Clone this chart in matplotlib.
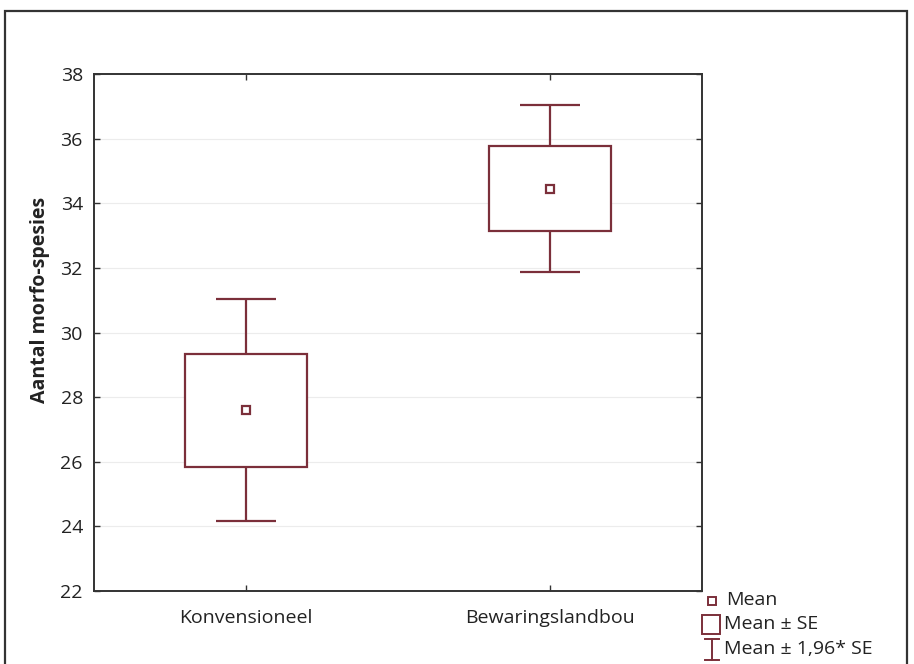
import matplotlib
matplotlib.use("Agg")
import matplotlib.pyplot as plt
from matplotlib.patches import Rectangle
from matplotlib.lines import Line2D

plt.rcParams['font.family'] = ['Open Sans', 'DejaVu Sans']

categories = ["Konvensioneel", "Bewaringslandbou"]
means = [27.6, 34.45]
se = [1.75, 1.32]
ci_factor = 1.96
y_ticks = [22, 24, 26, 28, 30, 32, 34, 36, 38]

W, H = 914, 664
fig = plt.figure(figsize=(W / 100, H / 100), dpi=100)
ax = fig.add_axes([94 / W, 1 - 591 / H, (702 - 94) / W, (591 - 74) / H])

box_col = "#7b2f3a"
box_half = 0.2
cap_half = 0.1

xs = list(range(1, len(categories) + 1))
for x, m, s in zip(xs, means, se):
    lo, hi = m - s, m + s
    wlo, whi = m - ci_factor * s, m + ci_factor * s
    ax.vlines(x, hi, whi, color=box_col, lw=1.6, zorder=3)
    ax.vlines(x, wlo, lo, color=box_col, lw=1.6, zorder=3)
    ax.hlines([wlo, whi], x - cap_half, x + cap_half, color=box_col, lw=1.6, zorder=3)
    ax.add_patch(Rectangle((x - box_half, lo), 2 * box_half, 2 * s,
                           facecolor="white", edgecolor=box_col, lw=1.6, zorder=3))
    ax.plot([x], [m], marker="s", ms=6, mfc="white", mec=box_col, mew=1.6, zorder=4)

ax.set_xlim(0.5, 2.5)
ax.set_ylim(22, 38)
ax.set_xticks(xs)
ax.set_xticklabels(categories)
ax.set_yticks(y_ticks)
ax.tick_params(direction="in", length=4, width=1, labelsize=14, top=True, right=True,
               color="#333333", labelcolor="#222222", pad=8)
ax.tick_params(axis="x", pad=13)
ax.yaxis.grid(True, color="#ececec", lw=0.8)
ax.set_axisbelow(True)
for sp in ax.spines.values():
    sp.set_color("#333333")
    sp.set_linewidth(1.4)
ax.set_ylabel("Aantal morfo-spesies", fontsize=14, fontweight="bold", color="#222222")
ax.yaxis.set_label_coords(-44 / 608, (591 - 300) / 517)

# outer frame
fig.add_artist(Rectangle((5 / W, -0.02), (907 - 5) / W, 1 - 11 / H + 0.02,
                         transform=fig.transFigure, fill=False, edgecolor="#333333", lw=1.6))

# legend
def px(x, y):
    return x / W, 1 - y / H

fig.add_artist(Line2D(*zip(px(712, 601)), marker="s", ms=6, mfc="white", mec=box_col,
                      mew=1.4, transform=fig.transFigure))
fig.text(*px(726, 600), "Mean", fontsize=14, va="center", ha="left", color="#222222")
x0, y0 = px(702, 634)
fig.add_artist(Rectangle((x0, y0), 18 / W, 19 / H, transform=fig.transFigure,
                         fill=False, edgecolor=box_col, lw=1.4))
fig.text(*px(724, 624), "Mean ± SE", fontsize=14, va="center", ha="left", color="#222222")
fig.add_artist(Line2D([px(712, 639)[0]] * 2, [px(712, 639)[1], px(712, 660)[1]],
                      color=box_col, lw=1.4, transform=fig.transFigure))
for yy in (639, 660):
    a, b = px(705, yy), px(719, yy)
    fig.add_artist(Line2D([a[0], b[0]], [a[1], b[1]], color=box_col, lw=1.4,
                          transform=fig.transFigure))
fig.text(*px(724, 649), "Mean ± 1,96* SE", fontsize=14, va="center", ha="left", color="#222222")

fig.savefig("out.png", dpi=100)
